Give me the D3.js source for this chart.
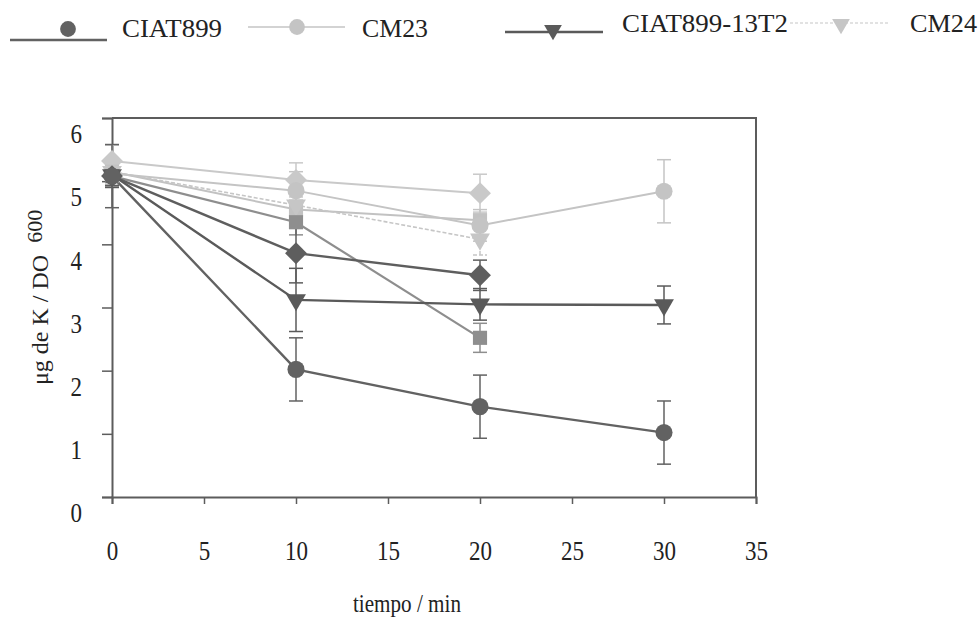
<!DOCTYPE html>
<html>
<head>
<meta charset="utf-8">
<script src="https://cdn.jsdelivr.net/npm/d3@7"></script>
<style>
  html, body { margin: 0; padding: 0; background: #fff; }
  svg { display: block; }
</style>
</head>
<body>
<svg id="chart" width="980" height="626"></svg>
<script>
// Sampling times (min)
const times = [0, 10, 20, 30];
const xTicks = [0, 5, 10, 15, 20, 25, 30, 35];
const yTicks = [0, 1, 2, 3, 4, 5, 6];

// K content per OD600 for each strain, with error
const ciat899      = [5.08, 2.02, 1.43, 1.02];
const ciat899Err   = [0.50, 0.50, 0.50, 0.50];
const cm23         = [5.12, 4.85, 4.30, 4.84];
const cm23Err      = [0.20, 0.30, 0.25, 0.50];
const ciat13T2     = [5.10, 3.12, 3.05, 3.04];
const ciat13T2Err  = [0.20, 0.50, 0.25, 0.30];
const cm24         = [5.15, 4.62, 4.08];
const cm24Err      = [0.20, 0.20, 0.25];
const sqDark       = [5.08, 4.35, 2.52];
const sqDarkErr    = [0.15, 0.20, 0.23];
const sqLight      = [5.15, 4.55, 4.38];
const sqLightErr   = [0.10, 0.15, 0.10];
const dmDark       = [5.08, 3.86, 3.51];
const dmDarkErr    = [0.15, 0.47, 0.24];
const dmLight      = [5.32, 5.02, 4.81];
const dmLightErr   = [0.25, 0.27, 0.30];

const legendNames = ["CIAT899", "CM23", "CIAT899-13T2", "CM24"];

const SERIF = "'Liberation Serif', 'Times New Roman', Times, serif";

// Series styling (drawn back to front)
const series = [
  { v: dmLight,  e: dmLightErr,  shape: "diamond",  color: "#c9c9c9", w: 2,   dash: null },
  { v: sqLight,  e: sqLightErr,  shape: "square",   color: "#c2c2c2", w: 2,   dash: null },
  { v: cm24,     e: cm24Err,     shape: "triangle", color: "#c6c6c6", w: 1.6, dash: "4,2" },
  { v: cm23,     e: cm23Err,     shape: "circle",   color: "#c4c4c4", w: 2,   dash: null },
  { v: sqDark,   e: sqDarkErr,   shape: "square",   color: "#8e8e8e", w: 2.2, dash: null },
  { v: dmDark,   e: dmDarkErr,   shape: "diamond",  color: "#5e5e5e", w: 2.4, dash: null },
  { v: ciat13T2, e: ciat13T2Err, shape: "triangle", color: "#5a5a5a", w: 2.4, dash: null },
  { v: ciat899,  e: ciat899Err,  shape: "circle",   color: "#626262", w: 2.4, dash: null }
];

const legendItems = [
  { name: legendNames[0], shape: "circle",   color: "#626262", w: 2.4, dash: null },
  { name: legendNames[1], shape: "circle",   color: "#c4c4c4", w: 1.6, dash: null },
  { name: legendNames[2], shape: "triangle", color: "#5a5a5a", w: 2.4, dash: null },
  { name: legendNames[3], shape: "triangle", color: "#c6c6c6", w: 1.2, dash: "3,2" }
];

const svg = d3.select("#chart");
const margin = { left: 112, right: 224, top: 118, bottom: 129 };
const W = 980, H = 626;

const x = d3.scaleLinear().domain([0, 35]).range([margin.left, W - margin.right]);
const y = d3.scaleLinear().domain([0, 6]).range([H - margin.bottom, margin.top]);

const axisColor = "#5c5c5c";

// Frame (top and right sides)
svg.append("path")
  .attr("d", `M${x(0)},${y(6)}H${x(35)}V${y(0)}`)
  .attr("fill", "none").attr("stroke", axisColor).attr("stroke-width", 2);

// Narrow serif digits for tick labels
function styleTickText(sel) {
  sel.style("font-family", SERIF).style("font-size", "27px").attr("fill", "#222")
    .attr("textLength", d => String(d).length * 11.5)
    .attr("lengthAdjust", "spacingAndGlyphs");
}

// Y axis
const yAxis = svg.append("g")
  .attr("transform", `translate(${x(0)},0)`)
  .call(d3.axisLeft(y).tickValues(yTicks).tickSize(10).tickPadding(20).tickFormat(d3.format("d")));
yAxis.attr("font-family", null);
yAxis.select(".domain").attr("stroke", axisColor).attr("stroke-width", 2);
yAxis.selectAll(".tick line").attr("stroke", axisColor).attr("stroke-width", 1.5);
yAxis.selectAll(".tick text").call(styleTickText).attr("dy", "0.92em");

// X axis
const xAxis = svg.append("g")
  .attr("transform", `translate(0,${y(0)})`)
  .call(d3.axisBottom(x).tickValues(xTicks).tickSize(7).tickPadding(37).tickFormat(d3.format("d")));
xAxis.attr("font-family", null);
xAxis.select(".domain").attr("stroke", axisColor).attr("stroke-width", 2);
xAxis.selectAll(".tick line").attr("stroke", axisColor).attr("stroke-width", 1.5);
xAxis.selectAll(".tick text").call(styleTickText);

// Axis titles
svg.append("text")
  .attr("x", 407).attr("y", 612)
  .attr("text-anchor", "middle")
  .style("font-family", SERIF).style("font-size", "25px").attr("fill", "#222")
  .attr("textLength", 108).attr("lengthAdjust", "spacingAndGlyphs")
  .text("tiempo / min");

const yt = svg.append("text")
  .attr("transform", "translate(48,385) rotate(-90)")
  .style("font-family", SERIF).style("font-size", "24px").attr("fill", "#222");
yt.append("tspan").text("μg de K / DO");
yt.append("tspan").attr("dx", 12).attr("dy", -6).style("font-size", "22px").text("600");

// Symbol generator
function symbolPath(shape, scale) {
  const s = scale || 1;
  if (shape === "circle") return d3.symbol(d3.symbolCircle, 230 * s)();
  if (shape === "square") return d3.symbol(d3.symbolSquare, 200 * s)();
  if (shape === "diamond") return d3.symbol(d3.symbolSquare, 240 * s)();
  return d3.symbol(d3.symbolTriangle, 170 * s)();
}
function symbolRotate(shape) {
  if (shape === "diamond") return 45;
  if (shape === "triangle") return 180;
  return 0;
}

const line = d3.line()
  .defined(d => d != null)
  .x((d, i) => x(times[i]))
  .y(d => y(d));

// Error bars
series.forEach(s => {
  const g = svg.append("g");
  s.v.forEach((val, i) => {
    const e = s.e[i];
    const cx = x(times[i]);
    g.append("line")
      .attr("x1", cx).attr("x2", cx).attr("y1", y(val - e)).attr("y2", y(val + e))
      .attr("stroke", s.color).attr("stroke-width", 1.5)
      .attr("stroke-dasharray", s.dash);
    [val - e, val + e].forEach(v => {
      g.append("line")
        .attr("x1", cx - 7).attr("x2", cx + 7).attr("y1", y(v)).attr("y2", y(v))
        .attr("stroke", s.color).attr("stroke-width", 1.5)
        .attr("stroke-dasharray", s.dash);
    });
  });
});

// Lines
series.forEach(s => {
  svg.append("path")
    .datum(s.v)
    .attr("d", line)
    .attr("fill", "none")
    .attr("stroke", s.color)
    .attr("stroke-width", s.w)
    .attr("stroke-dasharray", s.dash);
});

// Markers
series.forEach(s => {
  svg.append("g").selectAll("path")
    .data(s.v)
    .join("path")
    .attr("d", symbolPath(s.shape))
    .attr("transform", (d, i) => `translate(${x(times[i])},${y(d)}) rotate(${symbolRotate(s.shape)})`)
    .attr("fill", s.color);
});

// Legend
const legendPos = [
  { x0: 10,  x1: 107, mx: 68,  my: 29, ly: 40, tx: 122, ty: 37, tl: 100 },
  { x0: 248, x1: 345, mx: 297, my: 27, ly: 27, tx: 362, ty: 37, tl: 66 },
  { x0: 505, x1: 603, mx: 553, my: 30, ly: 32, tx: 622, ty: 32, tl: 166 },
  { x0: 790, x1: 890, mx: 841, my: 24, ly: 23, tx: 910, ty: 32, tl: 67 }
];
legendItems.forEach((item, i) => {
  const p = legendPos[i];
  svg.append("line")
    .attr("x1", p.x0).attr("x2", p.x1).attr("y1", p.ly).attr("y2", p.ly)
    .attr("stroke", item.color).attr("stroke-width", item.w)
    .attr("stroke-dasharray", item.dash);
  svg.append("path")
    .attr("d", symbolPath(item.shape, item.shape === "triangle" ? 0.8 : 0.85))
    .attr("transform", `translate(${p.mx},${p.my}) rotate(${symbolRotate(item.shape)})`)
    .attr("fill", item.color);
  svg.append("text")
    .attr("x", p.tx).attr("y", p.ty)
    .style("font-family", SERIF).style("font-size", "26px").attr("fill", "#222")
    .attr("textLength", p.tl).attr("lengthAdjust", "spacingAndGlyphs")
    .text(item.name);
});
</script>
</body>
</html>
